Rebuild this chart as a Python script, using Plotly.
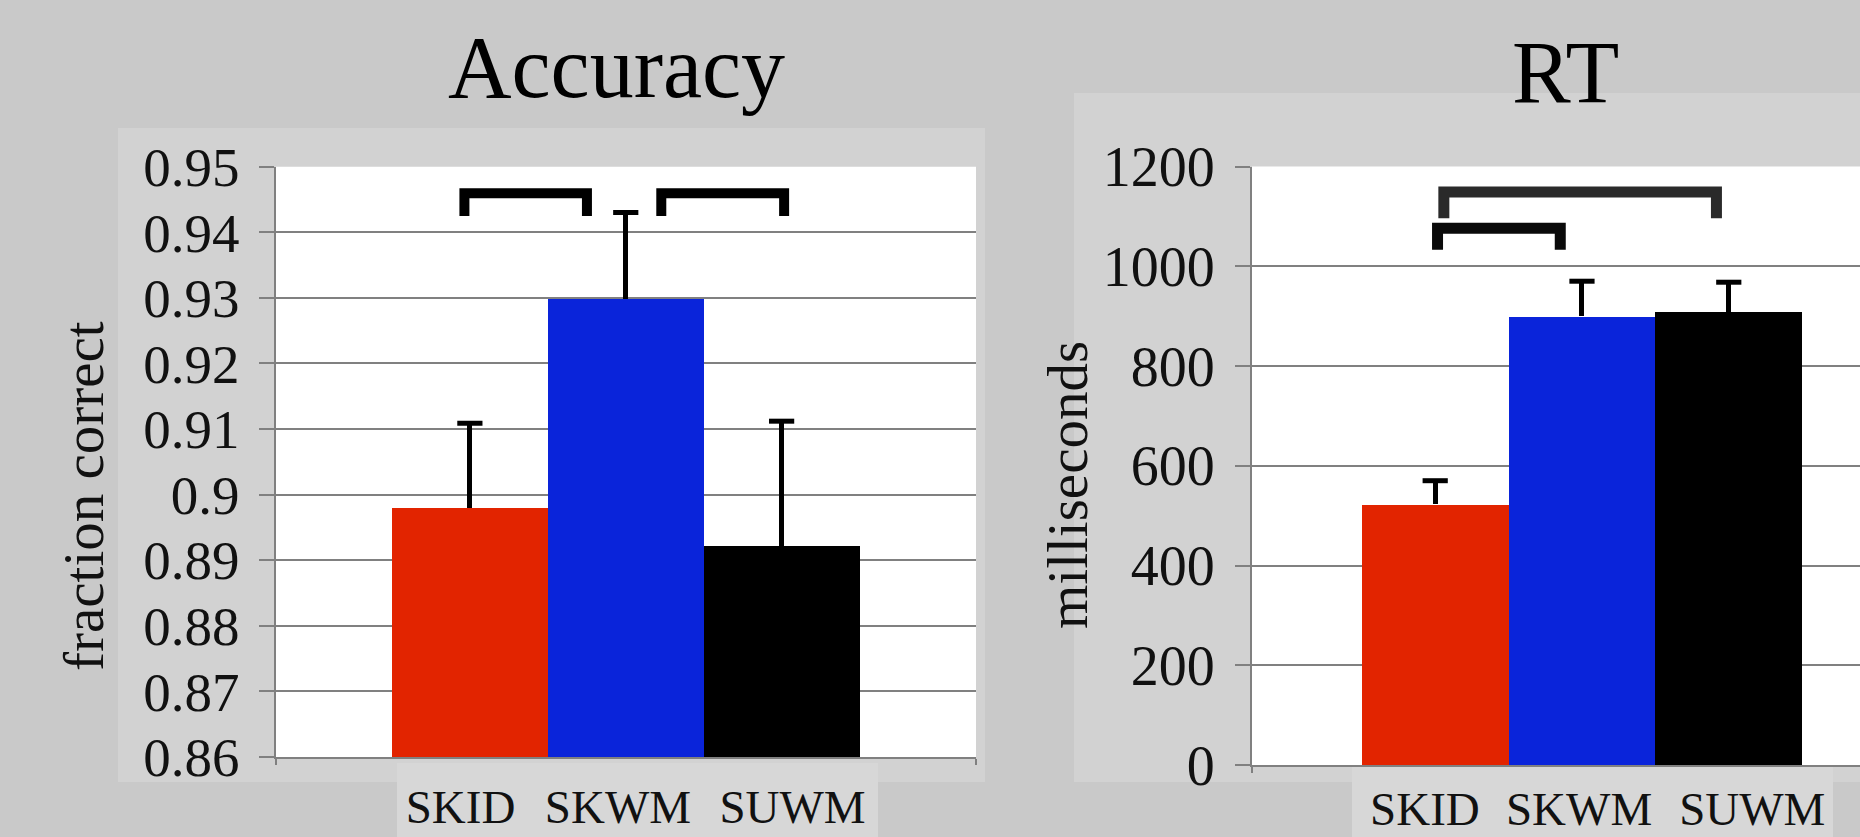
import plotly.graph_objects as go

W, H = 1860, 837

# ---------------- data ----------------
groups = ["SKID", "SKWM", "SUWM"]
bar_colors = ["#E22400", "#0A24DA", "#000000"]

acc_values = [0.8980, 0.9299, 0.8922]
acc_err_plus = [0.0129, 0.0131, 0.0190]
acc_ticks = [0.86, 0.87, 0.88, 0.89, 0.90, 0.91, 0.92, 0.93, 0.94, 0.95]
acc_ticktext = ["0.86", "0.87", "0.88", "0.89", "0.9", "0.91", "0.92", "0.93", "0.94", "0.95"]

rt_values = [523, 900, 909]
rt_err_plus = [47, 70, 59]
rt_ticks = [0, 200, 400, 600, 800, 1000, 1200]

# significance brackets: (x_left, x_right, y_top, y_leg_bottom)
acc_brackets = [(-0.035, 0.751, 0.94594, 0.94248),
                (1.228, 2.016, 0.94594, 0.94248)]
rt_brackets = [(0.059, 1.916, 1149, 1096),
               (0.016, 0.852, 1076, 1033)]

xpos = [0, 1, 2]

# layout-only: where the group labels sit under each panel (axis units)
acc_label_pos = [-0.06, 0.95, 2.07]
rt_label_pos = [-0.07, 0.98, 2.16]

# ---------------- figure ----------------
FONT = "Liberation Serif"
GRID = "#808080"
SLIDE = "#c9c9c9"
AREA = "#d2d2d2"
LABELBOX = "#d7d7d7"

fig = go.Figure()

def add_panel(values, plus, xa, ya):
    fig.add_trace(go.Bar(
        x=xpos, y=values, width=1.0,
        marker=dict(color=bar_colors, line=dict(width=0)),
        error_y=dict(type="data", symmetric=False, array=plus,
                     arrayminus=[0] * len(plus), color="#000000",
                     thickness=5, width=0),
        xaxis=xa, yaxis=ya, showlegend=False, hoverinfo="skip"))
    fig.add_trace(go.Scatter(
        x=xpos, y=[v + p for v, p in zip(values, plus)], mode="markers",
        marker=dict(symbol="line-ew", size=18,
                    line=dict(width=5, color="#000000")),
        xaxis=xa, yaxis=ya, showlegend=False, hoverinfo="skip"))

add_panel(acc_values, acc_err_plus, "x", "y")
add_panel(rt_values, rt_err_plus, "x2", "y2")

shapes = []
def prect(x0, y0, x1, y1, color):
    shapes.append(dict(type="rect", xref="paper", yref="paper",
                       x0=x0 / W, x1=x1 / W, y0=1 - y1 / H, y1=1 - y0 / H,
                       fillcolor=color, line=dict(width=0), layer="below"))

prect(118, 128, 985, 782, AREA)
prect(1074, 93, 1860, 782, AREA)
prect(397, 763, 878, 837, LABELBOX)
prect(1352, 763, 1833, 837, LABELBOX)

for xr, yr in (("x domain", "y domain"), ("x2 domain", "y2 domain")):
    shapes.append(dict(type="rect", xref=xr, yref=yr, x0=0, x1=1, y0=0, y1=1,
                       fillcolor="#ffffff", line=dict(width=0), layer="below"))

def bracket(b, xr, yr, width, color):
    x0, x1, yt, yb = b
    shapes.append(dict(type="path", xref=xr, yref=yr,
                       path=f"M {x0},{yb} L {x0},{yt} L {x1},{yt} L {x1},{yb}",
                       line=dict(color=color, width=width), layer="above"))

for b in acc_brackets:
    bracket(b, "x", "y", 10, "#000000")
bracket(rt_brackets[0], "x2", "y2", 11, "#2a2a2a")
bracket(rt_brackets[1], "x2", "y2", 11, "#0a0a0a")

annotations = [
    dict(text="Accuracy", x=616 / W, y=1 - 68 / H, xref="paper", yref="paper",
         showarrow=False, xanchor="center", yanchor="middle",
         font=dict(family=FONT, size=88, color="#000000")),
    dict(text="RT", x=1565 / W, y=1 - 73 / H, xref="paper", yref="paper",
         showarrow=False, xanchor="center", yanchor="middle",
         font=dict(family=FONT, size=88, color="#000000")),
    dict(text="fraction correct", x=83 / W, y=1 - 496 / H, xref="paper", yref="paper",
         showarrow=False, xanchor="center", yanchor="middle", textangle=-90,
         font=dict(family=FONT, size=57, color="#111111")),
    dict(text="milliseconds", x=1067 / W, y=1 - 485 / H, xref="paper", yref="paper",
         showarrow=False, xanchor="center", yanchor="middle", textangle=-90,
         font=dict(family=FONT, size=57, color="#111111")),
]

common_x = dict(showgrid=False, zeroline=False, showline=True, linecolor=GRID,
                linewidth=2, ticks="", ticktext=groups, tickangle=0,
                tickfont=dict(family=FONT, size=47, color="#111111"),
                automargin=False, fixedrange=True)
common_y = dict(showgrid=True, gridcolor=GRID, gridwidth=2, zeroline=False,
                showline=True, linecolor=GRID, linewidth=2, ticks="outside",
                ticklen=15, tickwidth=2, tickcolor=GRID, automargin=False,
                fixedrange=True)

fig.update_layout(
    width=W, height=H, margin=dict(l=0, r=0, t=0, b=0, pad=0, autoexpand=False),
    paper_bgcolor=SLIDE, plot_bgcolor="rgba(0,0,0,0)",
    bargap=0, showlegend=False,
    xaxis=dict(domain=[275.5 / W, 976 / W], range=[-1.247, 3.247],
               tickvals=acc_label_pos, ticklabelstandoff=8,
               minor=dict(tickvals=[-1.247, 3.247], ticks="outside", ticklen=6,
                          tickcolor=GRID, tickwidth=2),
               anchor="y", **common_x),
    yaxis=dict(domain=[80 / H, 670.3 / H], range=[0.86, 0.95],
               tickvals=acc_ticks, ticktext=acc_ticktext,
               tickfont=dict(family=FONT, size=55, color="#111111"),
               ticklabelstandoff=8, anchor="x", **common_y),
    xaxis2=dict(domain=[1252 / W, 1.0], range=[-1.248, 2.894],
                tickvals=rt_label_pos, ticklabelstandoff=2,
                minor=dict(tickvals=[-1.248], ticks="outside", ticklen=6,
                           tickcolor=GRID, tickwidth=2),
                anchor="y2", **common_x),
    yaxis2=dict(domain=[72 / H, 670.5 / H], range=[0, 1200],
                tickvals=rt_ticks,
                tickfont=dict(family=FONT, size=56, color="#111111"),
                ticklabelstandoff=9, anchor="x2", **common_y),
    shapes=shapes, annotations=annotations,
)

fig.write_html("out.html")
